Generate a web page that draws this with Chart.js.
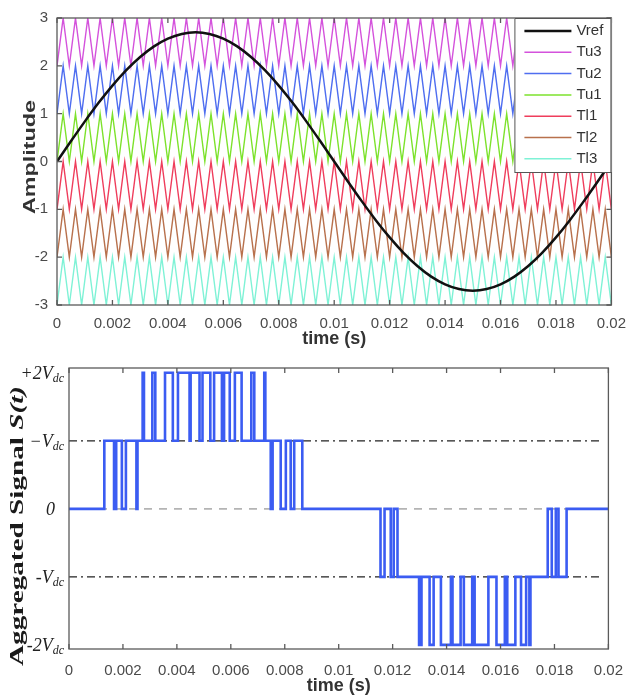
<!DOCTYPE html>
<html>
<head>
<meta charset="utf-8">
<script src="https://cdn.jsdelivr.net/npm/chart.js@4"></script>
<style>
  body { margin: 0; background: #fff; }
  .box { position: relative; width: 636px; height: 350px; }
</style>
</head>
<body>
<div class="box"><canvas id="topChart"></canvas></div>
<div class="box"><canvas id="bottomChart"></canvas></div>
<script>
// reference wave, read every 0.5 ms
const vrefTimes = [
  0, 0.0005, 0.001, 0.0015, 0.002, 0.0025, 0.003, 0.0035, 0.004, 0.0045,
  0.005, 0.0055, 0.006, 0.0065, 0.007, 0.0075, 0.008, 0.0085, 0.009, 0.0095,
  0.01, 0.0105, 0.011, 0.0115, 0.012, 0.0125, 0.013, 0.0135, 0.014, 0.0145,
  0.015, 0.0155, 0.016, 0.0165, 0.017, 0.0175, 0.018, 0.0185, 0.019, 0.0195, 0.02
];
const vrefValues = [
  0, 0.422, 0.834, 1.226, 1.587, 1.909, 2.184, 2.406, 2.568, 2.667,
  2.7, 2.667, 2.568, 2.406, 2.184, 1.909, 1.587, 1.226, 0.834, 0.422,
  0, -0.422, -0.834, -1.226, -1.587, -1.909, -2.184, -2.406, -2.568, -2.667,
  -2.7, -2.667, -2.568, -2.406, -2.184, -1.909, -1.587, -1.226, -0.834, -0.422, 0
];

// triangle carrier corners (trough, peak, trough, ...)
const carrierTimes = [
  0, 0.000222, 0.000444, 0.000667, 0.000889, 0.001111, 0.001333, 0.001556, 0.001778, 0.002,
  0.002222, 0.002444, 0.002667, 0.002889, 0.003111, 0.003333, 0.003556, 0.003778, 0.004,
  0.004222, 0.004444, 0.004667, 0.004889, 0.005111, 0.005333, 0.005556, 0.005778, 0.006,
  0.006222, 0.006444, 0.006667, 0.006889, 0.007111, 0.007333, 0.007556, 0.007778, 0.008,
  0.008222, 0.008444, 0.008667, 0.008889, 0.009111, 0.009333, 0.009556, 0.009778, 0.01,
  0.010222, 0.010444, 0.010667, 0.010889, 0.011111, 0.011333, 0.011556, 0.011778, 0.012,
  0.012222, 0.012444, 0.012667, 0.012889, 0.013111, 0.013333, 0.013556, 0.013778, 0.014,
  0.014222, 0.014444, 0.014667, 0.014889, 0.015111, 0.015333, 0.015556, 0.015778, 0.016,
  0.016222, 0.016444, 0.016667, 0.016889, 0.017111, 0.017333, 0.017556, 0.017778, 0.018,
  0.018222, 0.018444, 0.018667, 0.018889, 0.019111, 0.019333, 0.019556, 0.019778, 0.02
];
const carrierNames = ["Tu3", "Tu2", "Tu1", "Tl1", "Tl2", "Tl3"];
const carrierBase = [2, 1, 0, -1, -2, -3];
const carrierColors = ["#d452dc", "#4f6ef0", "#7de22c", "#ef3d5c", "#b8714d", "#7ff2d6"];

// aggregated signal: switching instants and the level held from each one
const switchTimes = [
  0, 0.00131, 0.00167, 0.00175, 0.00196, 0.00211, 0.0025, 0.00254,
  0.00273, 0.00278, 0.00309, 0.0032, 0.00356, 0.00385, 0.00404, 0.00447,
  0.00451, 0.00484, 0.00495, 0.00524, 0.00538, 0.00567, 0.00575, 0.00596,
  0.00615, 0.0064, 0.00676, 0.00687, 0.00724, 0.00728,
  0.00748, 0.00755, 0.00785, 0.00804, 0.00822, 0.00835, 0.00865,
  0.01155, 0.0117, 0.01193, 0.01204, 0.01218,
  0.01298, 0.01307, 0.01337, 0.01352, 0.01379, 0.01416, 0.01422, 0.01452,
  0.01464, 0.01495, 0.01504, 0.01555, 0.01585, 0.01616, 0.01625, 0.01655,
  0.01676, 0.01695, 0.01707, 0.01711,
  0.01775, 0.0179, 0.01805, 0.01815, 0.01845, 0.02
];
const switchLevels = [
  0, 1, 0, 1, 0, 1, 0, 1,
  2, 1, 2, 1, 2, 1, 2, 1,
  2, 1, 2, 1, 2, 1, 2, 1,
  2, 1, 2, 1, 2, 1,
  0, 1, 0, 1, 0, 1, 0,
  -1, 0, -1, 0, -1,
  -2, -1, -2, -1, -2, -1, -2, -1,
  -2, -1, -2, -1, -2, -1, -2, -1,
  -2, -1, -2, -1,
  0, -1, 0, -1, 0, 0
];

const levelTicks = [2, 1, 0, -1, -2];
const levelText = [["+2V", "dc"], ["\u2212V", "dc"], ["0", ""], ["-V", "dc"], ["-2V", "dc"]];

const sans = '"Liberation Sans", Arial, sans-serif';
const serif = '"Liberation Serif", "Times New Roman", serif';

// box and inward tick marks like the original plots
const frameTicks = {
  id: "frameTicks",
  afterDraw(chart, args, opts) {
    const { ctx, chartArea: a, scales } = chart;
    ctx.save();
    ctx.strokeStyle = "#5a5a5a";
    ctx.lineWidth = 1.3;
    ctx.strokeRect(a.left, a.top, a.width, a.height);
    ctx.beginPath();
    scales.x.ticks.forEach(t => {
      const px = scales.x.getPixelForValue(t.value);
      ctx.moveTo(px, a.bottom); ctx.lineTo(px, a.bottom - 5);
      ctx.moveTo(px, a.top); ctx.lineTo(px, a.top + 5);
    });
    if (opts.yTicks) {
      scales.y.ticks.forEach(t => {
        const py = scales.y.getPixelForValue(t.value);
        ctx.moveTo(a.left, py); ctx.lineTo(a.left + 5, py);
        ctx.moveTo(a.right, py); ctx.lineTo(a.right - 5, py);
      });
    }
    ctx.stroke();
    ctx.restore();
  }
};

// rotated y title, stretched along its length like the source image
function drawYTitle(ctx, parts, cx, cy, length) {
  let total = 0;
  parts.forEach(p => { ctx.font = p.font; p.w = ctx.measureText(p.text).width; total += p.w; });
  ctx.save();
  ctx.translate(cx, cy);
  ctx.rotate(-Math.PI / 2);
  ctx.scale(length / total, 1);
  ctx.textAlign = "left";
  ctx.textBaseline = "middle";
  let x = -total / 2;
  parts.forEach(p => {
    ctx.font = p.font;
    ctx.fillStyle = p.color;
    ctx.fillText(p.text, x, 0);
    x += p.w;
  });
  ctx.restore();
}

const legendBox = {
  id: "legendBox",
  afterDraw(chart) {
    const { ctx, chartArea: a } = chart;
    const sets = chart.data.datasets;
    const w = 97, h = 154, x0 = a.right - w, y0 = a.top;
    ctx.save();
    ctx.fillStyle = "#fff";
    ctx.fillRect(x0, y0, w, h);
    ctx.strokeStyle = "#555";
    ctx.lineWidth = 1;
    ctx.strokeRect(x0 + 0.5, y0 + 0.5, w - 1, h);
    ctx.font = "15px " + sans;
    ctx.textBaseline = "middle";
    sets.forEach((d, i) => {
      const y = y0 + 13 + i * 21.3;
      ctx.strokeStyle = d.borderColor;
      ctx.lineWidth = i === 0 ? 2.5 : 1.5;
      ctx.beginPath();
      ctx.moveTo(x0 + 10, y); ctx.lineTo(x0 + 57, y);
      ctx.stroke();
      ctx.fillStyle = "#333";
      ctx.fillText(d.label, x0 + 62, y);
    });
    ctx.restore();
    drawYTitle(ctx, [{ text: "Amplitude", font: "bold 17px " + sans, color: "#333" }], 30, 157, 114);
  }
};

const levelLabels = {
  id: "levelLabels",
  afterDraw(chart) {
    const { ctx, chartArea: a, scales } = chart;
    ctx.save();
    ctx.fillStyle = "#222";
    ctx.textAlign = "right";
    ctx.textBaseline = "alphabetic";
    levelTicks.forEach((v, i) => {
      const py = scales.y.getPixelForValue(v);
      const [main, sub] = levelText[i];
      let right = a.left - 5;
      if (sub) {
        ctx.font = "italic 12px " + serif;
        ctx.fillText(sub, right, py + 9);
        right -= ctx.measureText(sub).width;
      } else {
        right -= 9;
      }
      ctx.font = "italic 18px " + serif;
      ctx.fillText(main, right, py + 6);
    });
    ctx.restore();
    drawYTitle(ctx, [
      { text: "Aggregated Signal ", font: "bold 19px " + serif, color: "#1a1a1a" },
      { text: "S(t)", font: "bold italic 19px " + serif, color: "#1a1a1a" }
    ], 18, 176, 280);
  }
};

const timeTick = v => String(+v.toFixed(3));

// top: reference and carriers
const topSets = [{
  label: "Vref",
  data: vrefTimes.map((t, i) => ({ x: t, y: vrefValues[i] })),
  borderColor: "#111",
  borderWidth: 2.5,
  cubicInterpolationMode: "monotone"
}];
carrierNames.forEach((name, c) => {
  topSets.push({
    label: name,
    data: carrierTimes.map((t, i) => ({ x: t, y: carrierBase[c] + (i % 2) })),
    borderColor: carrierColors[c],
    borderWidth: 1.4
  });
});

new Chart(document.getElementById("topChart"), {
  type: "line",
  data: { datasets: topSets },
  options: {
    responsive: true,
    maintainAspectRatio: false,
    animation: false,
    layout: { padding: { top: 12, right: 19, left: 0, bottom: 0 } },
    elements: { point: { radius: 0 } },
    plugins: { legend: { display: false }, tooltip: { enabled: false }, frameTicks: { yTicks: true } },
    scales: {
      x: {
        type: "linear", min: 0, max: 0.02,
        afterFit: s => { s.height = 45; },
        grid: { display: false, drawTicks: false },
        border: { display: false },
        ticks: { stepSize: 0.002, padding: 10, color: "#4a4a4a", font: { family: sans, size: 15 }, callback: timeTick, maxRotation: 0 },
        title: { display: true, text: "time (s)", color: "#333", font: { family: sans, size: 18, weight: "bold" }, padding: { top: 0, bottom: 0 } }
      },
      y: {
        min: -3, max: 3,
        afterFit: s => { s.width = 57; },
        grid: { display: false, drawTicks: false },
        border: { display: false },
        ticks: { stepSize: 1, padding: 9, color: "#4a4a4a", font: { family: sans, size: 15 } }
      }
    }
  },
  plugins: [frameTicks, legendBox]
});

// bottom: aggregated signal with level guides
new Chart(document.getElementById("bottomChart"), {
  type: "line",
  data: {
    datasets: [{
      label: "S(t)",
      data: switchTimes.map((t, i) => ({ x: t, y: switchLevels[i] })),
      borderColor: "#3b5cf2",
      borderWidth: 2.6,
      stepped: "before"
    }, {
      label: "+Vdc",
      data: [{ x: 0, y: 1 }, { x: 0.0198, y: 1 }],
      borderColor: "#222",
      borderWidth: 1.2,
      borderDash: [8, 4, 2, 4]
    }, {
      label: "-Vdc",
      data: [{ x: 0, y: -1 }, { x: 0.0198, y: -1 }],
      borderColor: "#222",
      borderWidth: 1.2,
      borderDash: [8, 4, 2, 4]
    }, {
      label: "0",
      data: [{ x: 0, y: 0 }, { x: 0.0198, y: 0 }],
      borderColor: "#b4b4b4",
      borderWidth: 1.6,
      borderDash: [8, 7]
    }]
  },
  options: {
    responsive: true,
    maintainAspectRatio: false,
    animation: false,
    layout: { padding: { top: 18, right: 17, left: 0, bottom: 0 } },
    elements: { point: { radius: 0 } },
    plugins: { legend: { display: false }, tooltip: { enabled: false }, frameTicks: { yTicks: false } },
    scales: {
      x: {
        type: "linear", min: 0, max: 0.02,
        afterFit: s => { s.height = 51; },
        grid: { display: false, drawTicks: false },
        border: { display: false },
        ticks: { stepSize: 0.002, padding: 13, color: "#4a4a4a", font: { family: sans, size: 15 }, callback: timeTick, maxRotation: 0 },
        title: { display: true, text: "time (s)", color: "#333", font: { family: sans, size: 18, weight: "bold" }, padding: { top: 0, bottom: 3 } }
      },
      y: {
        min: -2.06, max: 2.07,
        afterFit: s => { s.width = 69; },
        grid: { display: false, drawTicks: false },
        border: { display: false },
        ticks: { display: false }
      }
    }
  },
  plugins: [frameTicks, levelLabels]
});
</script>
</body>
</html>
